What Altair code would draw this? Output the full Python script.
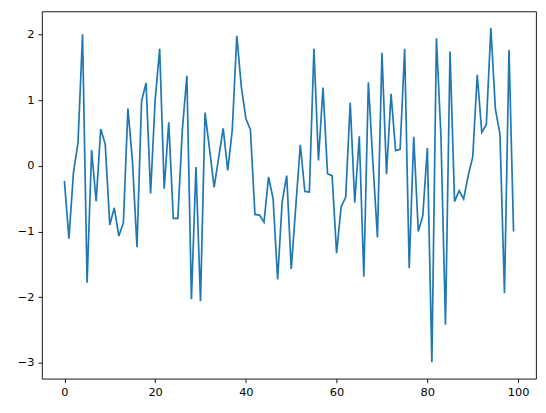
import altair as alt
import pandas as pd

x_values = list(range(100))
y_values = [
    -0.23, -1.11, -0.10, 0.35, 2.00, -1.78, 0.24, -0.54, 0.56, 0.33,
    -0.90, -0.64, -1.07, -0.87, 0.87, 0.07, -1.24, 0.98, 1.26, -0.42,
    1.00, 1.78, -0.35, 0.66, -0.80, -0.80, 0.55, 1.37, -2.03, -0.02,
    -2.06, 0.81, 0.25, -0.33, 0.12, 0.57, -0.07, 0.54, 1.98, 1.20,
    0.72, 0.55, -0.74, -0.75, -0.86, -0.17, -0.50, -1.73, -0.55, -0.15,
    -1.57, -0.62, 0.32, -0.39, -0.40, 1.78, 0.08, 1.19, -0.12, -0.15,
    -1.33, -0.62, -0.48, 0.96, -0.56, 0.45, -1.69, 1.27, 0.05, -1.09,
    1.72, -0.13, 1.095, 0.23, 0.25, 1.78, -1.56, 0.44, -1.00, -0.76,
    0.27, -2.99, 1.94, 0.45, -2.42, 1.74, -0.545, -0.38, -0.505, -0.15,
    0.13, 1.385, 0.51, 0.625, 2.095, 0.86, 0.485, -1.94, 1.76, -1.00,
]
x_ticks = [0, 20, 40, 60, 80, 100]
y_ticks = [-3, -2, -1, 0, 1, 2]

df = pd.DataFrame({"x": x_values, "y": y_values})

axis_style = dict(
    grid=False,
    domain=False,
    tickColor="black",
    tickWidth=0.9,
    tickSize=4,
    labelFont="DejaVu Sans",
    labelFontSize=11.4,
    labelColor="black",
    labelPadding=4,
    title=None,
)

chart = (
    alt.Chart(df)
    .mark_line(color="#1f77b4", strokeWidth=1.7)
    .encode(
        x=alt.X(
            "x:Q",
            scale=alt.Scale(domain=[-4.95, 103.95], nice=False, zero=False),
            axis=alt.Axis(values=x_ticks, format="d", **axis_style),
        ),
        y=alt.Y(
            "y:Q",
            scale=alt.Scale(domain=[-3.24, 2.35], nice=False, zero=False),
            axis=alt.Axis(values=y_ticks, format="d", **axis_style),
        ),
    )
    .properties(
        width=495,
        height=368,
        autosize=alt.AutoSizeParams(type="none"),
        padding={"left": 34, "top": 3, "right": 2, "bottom": 26},
    )
    .configure_view(stroke="black", strokeWidth=0.9)
)

chart.save("out.html", embed_options={"renderer": "svg", "actions": False})
